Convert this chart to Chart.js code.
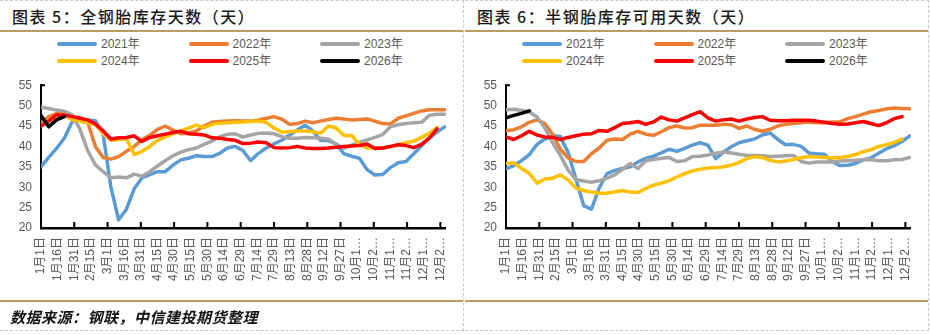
<!DOCTYPE html>
<html>
<head>
<meta charset="utf-8">
<script src="https://cdn.jsdelivr.net/npm/chart.js@4.4.1/dist/chart.umd.min.js"></script>
<style>
  body { margin: 0; width: 930px; height: 335px; background: #fff; overflow: hidden;
         font-family: "Liberation Sans", "Noto Sans CJK SC", sans-serif; }
  .panel { position: absolute; top: 0; width: 464px; height: 331px; box-sizing: border-box;
           border-top: 1px dashed #c9c9c9; border-bottom: 1px dashed #c9c9c9; border-right: 1px dashed #c9c9c9; }
  .title { position: absolute; left: 12px; top: 4px; line-height: 22px; font-size: 16px; font-weight: 500;
           font-family: "Noto Sans CJK SC", sans-serif; letter-spacing: 1.5px; color: #1a1a1a; }
  .rule { position: absolute; left: 0; right: 0; height: 2px; background: #bf9b5f; }
  .legend { position: absolute; left: 0; top: 0; width: 464px; height: 70px; }
  .item { position: absolute; font-size: 12px; color: #595959; line-height: 14px; }
  .swatch { position: absolute; left: 0; top: 5px; width: 40px; height: 4px; border-radius: 2px; }
  .item span { position: absolute; left: 44px; top: 0; white-space: nowrap; }
  .plot { position: absolute; left: 0; top: 68px; width: 464px; height: 232px; }
  .source { position: absolute; left: 10px; top: 305px; font-size: 15px; font-weight: 700; font-style: italic;
            font-family: "Noto Sans CJK SC", sans-serif; letter-spacing: 0.5px; color: #111; }
</style>
</head>
<body>

<div class="panel" style="left:0">
  <div class="title">图表 5：全钢胎库存天数（天）</div>
  <div class="rule" style="top:29px"></div>
  <div class="legend" id="legendFull"></div>
  <div class="plot"><canvas id="fullChart" width="464" height="232"></canvas></div>
  <div class="rule" style="top:299px"></div>
  <div class="source">数据来源：钢联，中信建投期货整理</div>
</div>

<div class="panel" style="left:465px">
  <div class="title">图表 6：半钢胎库存可用天数（天）</div>
  <div class="rule" style="top:29px"></div>
  <div class="legend" id="legendHalf"></div>
  <div class="plot"><canvas id="halfChart" width="464" height="232"></canvas></div>
  <div class="rule" style="top:299px"></div>
</div>

<script>
const tickLabels = ['1月1日', '1月16日', '1月31日', '2月15日', '3月1日', '3月16日', '3月31日', '4月15日',
    '4月30日', '5月15日', '5月30日', '6月14日', '6月29日', '7月14日', '7月29日', '8月13日', '8月28日',
    '9月12日', '9月27日', '10月1…', '10月2…', '11月1…', '11月2…', '12月1…', '12月2…'];
const tickStepDays = 15;
const weekStepDays = 7;

const seriesNames = ['2021年', '2022年', '2023年', '2024年', '2025年', '2026年'];
const seriesColors = ['#5b9bd5', '#ed7d31', '#a5a5a5', '#ffc000', '#ff0000', '#000000'];

// 全钢胎库存天数, one value per week
const full2021 = [35, 37.3, 39.5, 42, 46, 46.5, 46.5, 46.3, 43, 30, 22, 24.6, 29.6, 32.3, 33.1, 33.8, 33.8, 35.4,
    36.7, 37.1, 37.7, 37.5, 37.5, 38.3, 39.6, 40, 39, 36.5, 38.3, 39.6, 40.6, 41.5, 42.8, 44, 45.2, 43.8, 41.5, 41.4,
    40.6, 38.2, 37.6, 37.1, 34.3, 33, 33.1, 34.8, 36, 36.3, 38.2, 40.1, 42.1, 43.5, 44.8];
const full2022 = [45.8, 47.3, 48, 48, 47.3, 47, 46, 40, 37.3, 36.9, 37.5, 38.8, 40, 41.7, 42.7, 44.2, 45, 44, 43.1,
    43.3, 43.8, 45, 45.9, 46.1, 46.2, 46.3, 46.2, 46.2, 46.5, 46.9, 47.3, 46.7, 45.4, 45.6, 46.2, 45.8, 46.2, 46.6,
    46.9, 46.7, 46.5, 46.6, 46.7, 46.2, 45.6, 45.5, 46.9, 47.5, 48.1, 48.7, 49, 49, 49];
const full2023 = [49.6, 49.3, 48.9, 48.6, 47.8, 44.3, 39, 35.5, 33.8, 32.3, 32.5, 32.3, 33.2, 32.7, 33.8, 35.2, 36.5,
    37.7, 38.6, 39.2, 39.6, 40.5, 41.3, 42.3, 43, 43.1, 42.3, 42.8, 43.2, 43.3, 43.1, 42.4, 42, 42, 42.2, 42.1, 42,
    41.8, 40.5, 39.6, 40.3, 41, 41.6, 42.2, 42.9, 44.8, 45.3, 45.6, 45.8, 45.9, 47.6, 47.9, 47.9];
const full2024 = [45, 46.2, 47.3, 47.7, 46.5, 46.2, 45.8, 45.4, 43.1, 41.5, 41.7, 41.9, 38, 38.8, 40, 41.5, 42.3, 43.1,
    43.8, 44.5, 45.2, 44.6, 45.4, 45.7, 45.8, 45.9, 46, 46.1, 46.2, 45.9, 44.5, 43.5, 43.6, 43.8, 43.8, 43.6, 43.2, 45,
    44.5, 42.7, 42.7, 40.5, 39.6, 39.6, 39.6, 39.9, 40.4, 40.9, 41.3, 42.2, 43.2, 44.6];
const full2025 = [45, 46.2, 47.7, 47.7, 47.3, 46.9, 46.5, 45.5, 43.8, 41.8, 42.1, 42.2, 42.6, 41.2, 42.2, 42.6, 43,
    43.4, 43.7, 43.1, 43, 42.8, 42.1, 42, 41.7, 41.5, 40.7, 40.8, 41.1, 40.9, 39.7, 39.6, 39.7, 40, 39.6, 39.5, 39.5,
    39.6, 39.8, 40, 40.1, 40.2, 40.6, 39.5, 39.6, 40, 40.4, 40.2, 39.7, 40.5, 42, 44.3];
const full2026 = [47.6, 44.8, 46.5, 47.3];

// 半钢胎库存可用天数, one value per week
const half2021 = [34.5, 35.3, 36.5, 38, 40.5, 41.8, 42.6, 42.4, 38.5, 32, 25.5, 24.6, 29.8, 33.3, 34.1, 34.6, 35, 36.2,
    37.1, 37.6, 38.4, 39.3, 38.8, 39.5, 40.3, 40.9, 40.3, 37, 38.6, 39.9, 40.9, 41.4, 41.8, 42.8, 43.3, 41.7, 40.4,
    40.5, 40, 38.4, 38.2, 38.1, 36.3, 35.3, 35.4, 35.8, 36.7, 37.2, 38.3, 39.4, 40.2, 41.2, 42.6];
const half2022 = [43.8, 44.1, 44.8, 45.9, 46.5, 45.6, 43, 39.3, 37.2, 36.3, 36.3, 38.2, 39.6, 41.5, 41.8, 41.7, 43,
    43.7, 43, 42.7, 43.6, 44.6, 45, 44.5, 44.6, 45.2, 45.2, 45.2, 45.4, 45.3, 44.4, 45, 44.2, 43.7, 44.2, 45, 45.4,
    45.6, 45.8, 46, 45.8, 45.8, 46, 46, 46.8, 47.3, 47.9, 48.5, 48.8, 49.2, 49.4, 49.3, 49.2];
const half2023 = [49, 49.1, 48.8, 48.5, 47.2, 44.5, 40.9, 37.8, 34.2, 31.9, 31.5, 31.2, 31.6, 32.2, 33, 34.4, 35.8,
    34.6, 36.5, 36.8, 37.1, 37.3, 36.3, 36.5, 37.5, 37.6, 37.9, 38.3, 38.6, 38.4, 38.1, 37.8, 37.8, 37.7, 37.5, 37.6,
    37.7, 37.8, 36.3, 35.9, 36.2, 36.2, 36.2, 36.4, 36.5, 36.6, 36.7, 36.8, 36.5, 36.5, 36.7, 36.8, 37.3];
const half2024 = [35.8, 36, 34.6, 33.4, 31, 32, 32.2, 33, 31.8, 29.8, 29.2, 28.8, 28.5, 28.5, 28.9, 29.2, 28.8, 28.7,
    29.7, 30.5, 31, 31.6, 32.5, 33.3, 34, 34.4, 34.7, 34.8, 35, 35.4, 36.1, 37, 37.5, 37.3, 36.6, 36.2, 36.4, 36.8,
    37.2, 37.5, 37.4, 37.3, 37.2, 37.2, 37.5, 38, 38.7, 39.2, 40, 40.4, 41, 41.8];
const half2025 = [42.3, 41.7, 42.6, 43.7, 42.8, 42.3, 42.2, 41.7, 42.2, 42.6, 43, 43.1, 43.9, 43.7, 44.6, 45.6, 45.8,
    46.1, 45.4, 46, 47.2, 46.5, 46.2, 47, 47.8, 48.5, 47, 46.2, 46.5, 46.7, 46.2, 46.7, 47.1, 47.3, 46.4, 46.3, 46.3,
    46.4, 46.4, 46.4, 46.2, 45.9, 45.6, 45.4, 45.5, 45.8, 46.1, 45.6, 45.1, 45.8, 46.8, 47.3];
const half2026 = [47, 47.6, 48.1, 48.7];

const yMin = 20, yMax = 55, yStep = 5;
const xMaxDays = 365;

const labelFont = { family: "'Liberation Sans', 'Noto Sans CJK SC', sans-serif", size: 12 };

// small inward tick marks on the date axis (every second label) plus the cap at the top of the value axis
const innerTicks = {
    id: 'innerTicks',
    afterDatasetsDraw(chart) {
        const { ctx, chartArea, scales: { x } } = chart;
        ctx.save();
        ctx.strokeStyle = '#000';
        ctx.lineWidth = 2;
        ctx.beginPath();
        for (let i = 2; i < tickLabels.length; i += 2) {
            const px = x.getPixelForValue(i * tickStepDays);
            ctx.moveTo(px, chartArea.bottom);
            ctx.lineTo(px, chartArea.bottom - 6);
        }
        ctx.moveTo(chartArea.left, chartArea.top);
        ctx.lineTo(chartArea.left + 4, chartArea.top);
        ctx.stroke();
        ctx.restore();
    }
};

const buildLegend = (id) => {
    const box = document.getElementById(id);
    seriesNames.forEach((name, i) => {
        const item = document.createElement('div');
        item.className = 'item';
        item.style.left = (57 + (i % 3) * 131.5) + 'px';
        item.style.top = (36 + Math.floor(i / 3) * 17) + 'px';
        item.innerHTML = '<div class="swatch" style="background:' + seriesColors[i] + '"></div><span>' + name + '</span>';
        box.appendChild(item);
    });
};

const makeChart = (canvasId, seriesValues) => {
    const ctx = document.getElementById(canvasId).getContext('2d');
    new Chart(ctx, {
        type: 'line',
        data: {
            datasets: seriesValues.map((values, i) => ({
                label: seriesNames[i],
                data: values.map((v, w) => ({ x: w * weekStepDays, y: v })),
                borderColor: seriesColors[i],
                backgroundColor: seriesColors[i],
                borderWidth: 3.5,
                borderJoinStyle: 'round',
                borderCapStyle: 'round',
                pointRadius: 0,
                tension: 0,
                order: seriesValues.length - i
            }))
        },
        options: {
            responsive: false,
            animation: false,
            layout: { padding: { left: 0, top: 7, right: 17, bottom: 0 } },
            plugins: { legend: { display: false }, tooltip: { enabled: false } },
            scales: {
                x: {
                    type: 'linear',
                    min: 0,
                    max: xMaxDays,
                    grid: { display: false, drawTicks: false },
                    border: { display: true, color: '#000', width: 2.5 },
                    afterBuildTicks: (scale) => {
                        scale.ticks = tickLabels.map((_, i) => ({ value: i * tickStepDays }));
                    },
                    afterFit: (scale) => { scale.height = 73; },
                    ticks: {
                        autoSkip: false,
                        maxRotation: 90,
                        minRotation: 90,
                        padding: 9,
                        color: '#595959',
                        font: labelFont,
                        callback: (value) => tickLabels[Math.round(value / tickStepDays)]
                    }
                },
                y: {
                    min: yMin,
                    max: yMax,
                    grid: { display: false, drawTicks: false },
                    border: { display: true, color: '#000', width: 2 },
                    afterFit: (scale) => { scale.width = 41; },
                    ticks: { stepSize: yStep, padding: 9, color: '#595959', font: labelFont }
                }
            }
        },
        plugins: [innerTicks]
    });
};

buildLegend('legendFull');
buildLegend('legendHalf');
makeChart('fullChart', [full2021, full2022, full2023, full2024, full2025, full2026]);
makeChart('halfChart', [half2021, half2022, half2023, half2024, half2025, half2026]);
</script>
</body>
</html>
